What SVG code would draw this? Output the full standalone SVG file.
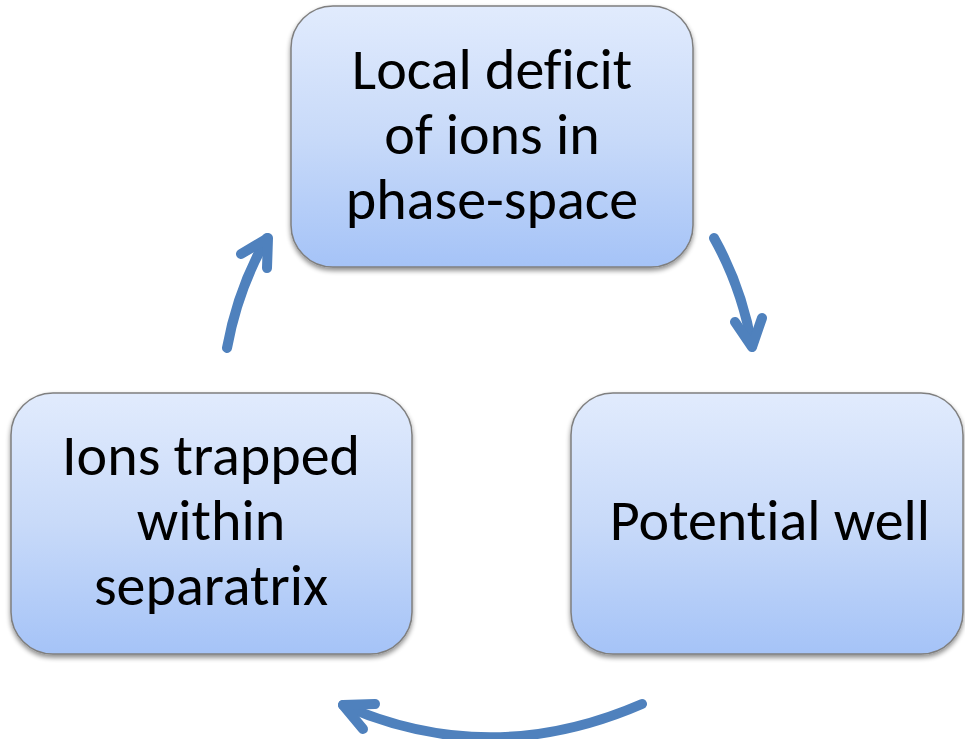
<svg xmlns="http://www.w3.org/2000/svg" width="965" height="739" viewBox="0 0 965 739">
  <style>
    .box { fill: url(#boxFill); stroke: #7f7f7f; stroke-width: 1.5; filter: url(#shadow); }
    .label { font-family: "Carlito", "Lato", "Open Sans", sans-serif; font-size: 58px; fill: #000; text-anchor: middle; font-variant-ligatures: none; }
    .flow { fill: none; stroke: #4f81bd; stroke-width: 10; stroke-linecap: round; stroke-linejoin: round; }
  </style>
  <defs>
    <linearGradient id="boxFill" x1="0" y1="0" x2="0" y2="1">
      <stop offset="0" stop-color="#e1ebfd"/>
      <stop offset="0.5" stop-color="#c8daf9"/>
      <stop offset="1" stop-color="#a5c3f7"/>
    </linearGradient>
    <filter id="shadow" x="-5%" y="-5%" width="110%" height="115%">
      <feGaussianBlur in="SourceAlpha" stdDeviation="2.5"/>
      <feOffset dx="0" dy="3" result="b"/>
      <feComponentTransfer><feFuncA type="linear" slope="0.45"/></feComponentTransfer>
      <feMerge><feMergeNode/><feMergeNode in="SourceGraphic"/></feMerge>
    </filter>
  </defs>

  <g id="node-deficit">
    <rect class="box" x="291" y="6" width="402" height="261" rx="42"/>
    <text class="label" x="492" y="89">Local deficit</text>
    <text class="label" x="492" y="154">of ions in</text>
    <text class="label" x="492" y="219">phase-space</text>
  </g>

  <g id="node-well">
    <rect class="box" x="571" y="393" width="392" height="261" rx="42"/>
    <text class="label" x="770" y="540">Potential well</text>
  </g>

  <g id="node-trapped">
    <rect class="box" x="11" y="393" width="401" height="261" rx="42"/>
    <text class="label" x="211" y="475">Ions trapped</text>
    <text class="label" x="211" y="540">within</text>
    <text class="label" x="211" y="605">separatrix</text>
  </g>

  <g id="connectors">
    <path class="flow" d="M714 238 Q742 288 752 346"/>
    <path class="flow" d="M735 322 L752 347 L762 318"/>
    <path class="flow" d="M642 704 Q490 770 343 705"/>
    <path class="flow" d="M375 704 L343 705 L363 729"/>
    <path class="flow" d="M227 348 Q238 288 267 238"/>
    <path class="flow" d="M241 254 L268 238 L267 268"/>
  </g>
</svg>
